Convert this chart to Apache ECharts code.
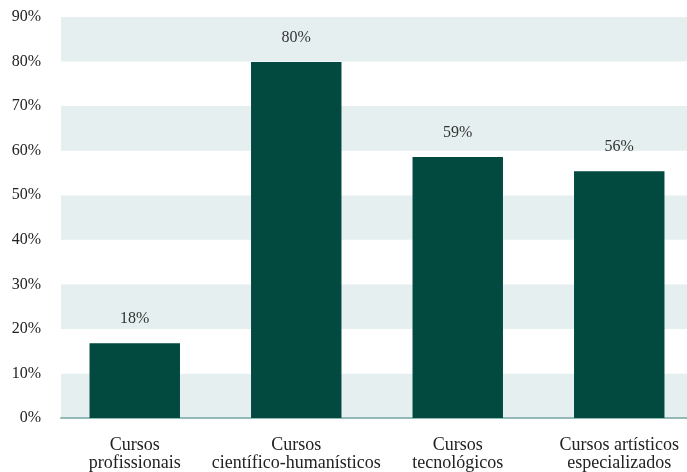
<!DOCTYPE html>
<html><head><meta charset="utf-8">
<script src="https://cdn.jsdelivr.net/npm/echarts@6/dist/echarts.min.js"></script>
<style>html,body{margin:0;padding:0;background:#fff}#c{width:687px;height:472px}</style>
</head><body><div id="c"></div>
<script>
const categories = ["Cursos\nprofissionais", "Cursos\ncientífico-humanísticos", "Cursos\ntecnológicos", "Cursos artísticos\nespecializados"];
const values = [16.8, 79.9, 58.6, 55.4];
const valueLabels = ["18%", "80%", "59%", "56%"];
const yTicks = [0, 10, 20, 30, 40, 50, 60, 70, 80, 90];

const font = "'Liberation Serif', 'DejaVu Serif', serif";
const chart = echarts.init(document.getElementById('c'), null, {renderer: 'canvas'});
chart.setOption({
  animation: false,
  grid: [
    {left: 61, right: 0, top: 17, bottom: 54},
    {left: 54, right: -13, top: 17, bottom: 54, outerBoundsMode: 'none', containLabel: false}
  ],
  xAxis: [
    {gridIndex: 0, type: 'category', data: categories,
      axisLine: {show: true, lineStyle: {color: '#93b9b7', width: 2}},
      axisTick: {show: false}, axisLabel: {show: false}},
    {gridIndex: 1, type: 'category', data: categories,
      axisLine: {show: false}, axisTick: {show: false},
      axisLabel: {interval: 0, color: '#222', fontFamily: font, fontSize: 18, lineHeight: 18, margin: 18}}
  ],
  yAxis: [
    {gridIndex: 0, type: 'value', min: yTicks[0], max: yTicks[yTicks.length-1], interval: 10,
      axisLine: {show: false}, axisTick: {show: false}, splitLine: {show: false},
      splitArea: {show: true, areaStyle: {color: ['#e5eff0', '#ffffff']}},
      axisLabel: {color: '#222', fontFamily: font, fontSize: 16, margin: 20, formatter: v => v + '%'}},
    {gridIndex: 1, type: 'value', min: yTicks[0], max: yTicks[yTicks.length-1], interval: 10,
      show: false, splitLine: {show: false}}
  ],
  series: [{
    type: 'bar', xAxisIndex: 1, yAxisIndex: 1, data: values, barWidth: '56%',
    itemStyle: {color: '#02493f'},
    label: {show: true, position: 'top', distance: 16, color: '#333', fontFamily: font, fontSize: 16,
      formatter: p => valueLabels[p.dataIndex]}
  }]
});
</script></body></html>
